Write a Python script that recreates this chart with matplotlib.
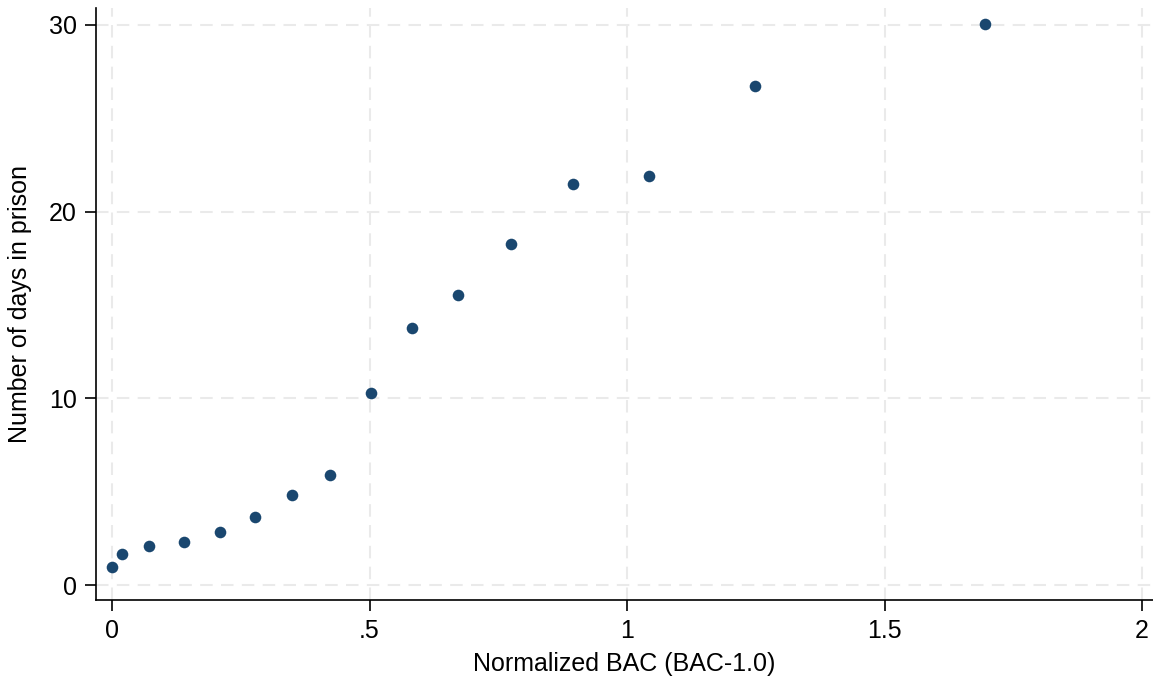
import matplotlib.pyplot as plt

plt.rcParams['font.family'] = ['Liberation Sans', 'DejaVu Sans']

# binned scatter: normalized BAC vs mean days in prison
bac = [0.0, 0.020, 0.071, 0.140, 0.209, 0.278, 0.349, 0.424,
       0.503, 0.583, 0.672, 0.775, 0.895, 1.043, 1.249, 1.695]
days = [0.98, 1.66, 2.07, 2.29, 2.86, 3.64, 4.82, 5.91,
        10.28, 13.77, 15.53, 18.26, 21.48, 21.9, 26.75, 30.05]

xticks = [0, 0.5, 1, 1.5, 2]
xlabels = ['0', '.5', '1', '1.5', '2']
yticks = [0, 10, 20, 30]

fig = plt.figure(figsize=(11.53, 6.79), dpi=100)
ax = fig.add_axes([96/1153, 79/679, (1153-96)/1153, (600-8)/679])

ax.scatter(bac, days, s=70, color='#1a476f', zorder=3, linewidths=0)

ax.set_xlim(-0.031, 2.021)
ax.set_ylim(-0.80, 30.9)
ax.set_xticks(xticks)
ax.set_xticklabels(xlabels)
ax.set_yticks(yticks)

ax.grid(True, color='#eaeaea', linestyle=(0, (6, 4)), linewidth=1.5)
ax.set_axisbelow(True)

for s in ['top', 'right']:
    ax.spines[s].set_visible(False)
for s in ['left', 'bottom']:
    ax.spines[s].set_linewidth(1.2)

ax.tick_params(direction='out', length=8, width=1.2, labelsize=18, pad=6)

ax.set_xlabel('Normalized BAC (BAC-1.0)', fontsize=18, labelpad=6)
ax.set_ylabel('Number of days in prison', fontsize=18, labelpad=12)

fig.savefig('out.png', dpi=100)
